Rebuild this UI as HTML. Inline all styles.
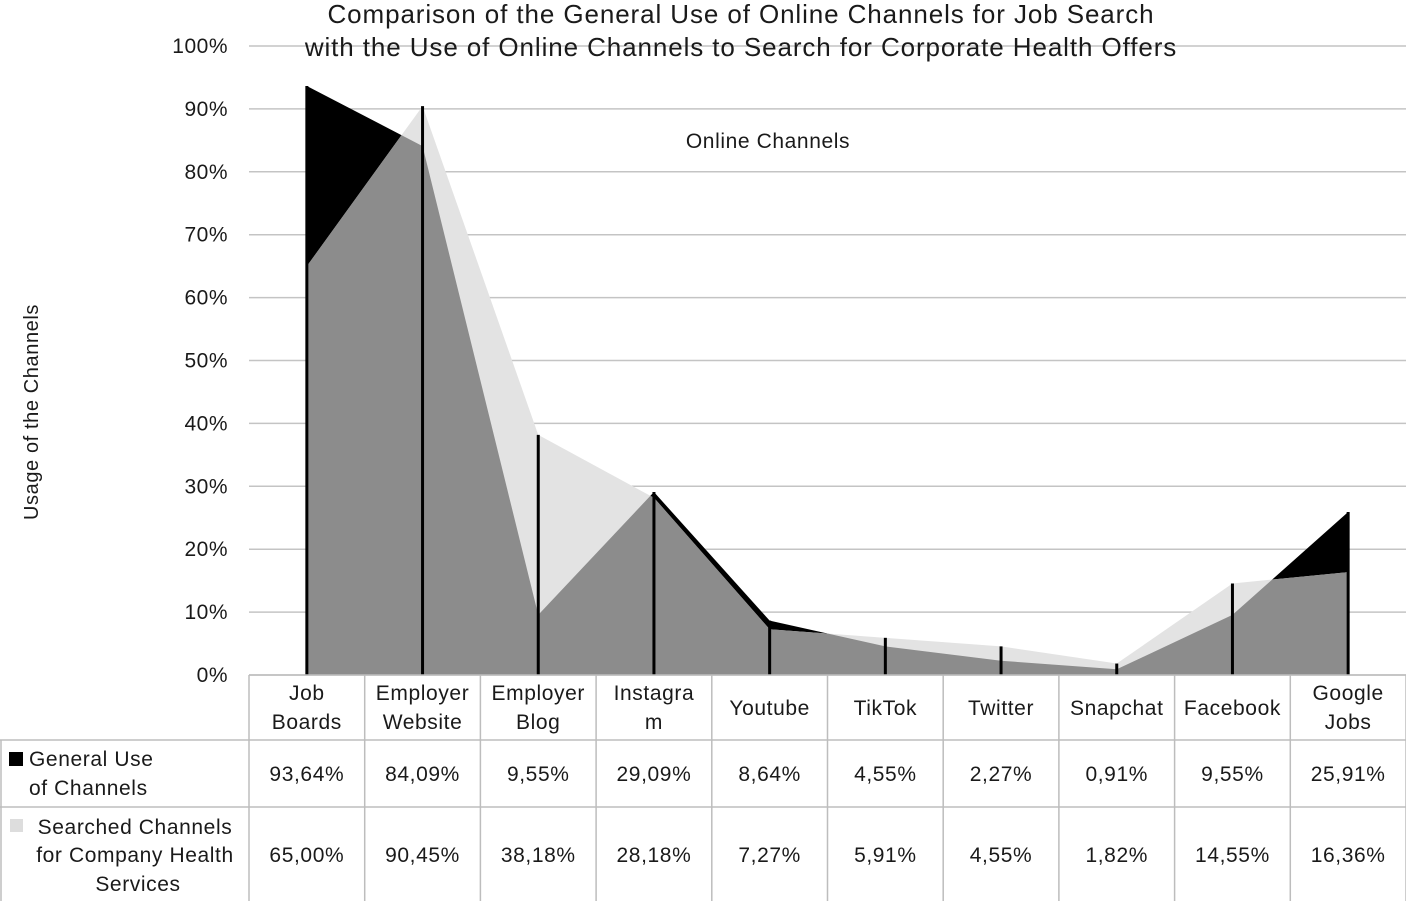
<!DOCTYPE html>
<html><head><meta charset="utf-8"><style>
body{margin:0;background:#fff}
svg text{font-family:"Liberation Sans",sans-serif;fill:#1a1a1a}
</style></head><body>
<svg id="c" width="1406" height="901">
<defs><clipPath id="clipS"><polygon id="clipPoly"/></clipPath></defs>
<g id="grid"></g>
<g id="areas"></g>
<g id="drops"></g>
<g id="yticks"></g>
<g id="table"></g>
<text x="741" y="23" font-size="26" letter-spacing="0.9" text-anchor="middle">Comparison of the General Use of Online Channels for Job Search</text>
<text x="741" y="56" font-size="26" letter-spacing="0.9" text-anchor="middle">with the Use of Online Channels to Search for Corporate Health Offers</text>
<text x="768" y="148" font-size="21" letter-spacing="0.6" text-anchor="middle">Online Channels</text>
<text transform="translate(38,412) rotate(-90)" font-size="20" letter-spacing="0.6" text-anchor="middle">Usage of the Channels</text>
</svg>
<script>
const categories=[["Job","Boards"],["Employer","Website"],["Employer","Blog"],["Instagra","m"],["Youtube"],["TikTok"],["Twitter"],["Snapchat"],["Facebook"],["Google","Jobs"]];
const generalUse=[93.64,84.09,9.55,29.09,8.64,4.55,2.27,0.91,9.55,25.91];
const searched=[65.00,90.45,38.18,28.18,7.27,5.91,4.55,1.82,14.55,16.36];
const yTicks=[0,10,20,30,40,50,60,70,80,90,100];
const NS="http://www.w3.org/2000/svg";
const x0=249,x1=1406,colW=(x1-x0)/categories.length;
const y=v=>675-v*6.29;
const x=i=>x0+colW*(i+0.5);
function mk(t,a,p){const e=document.createElementNS(NS,t);for(const k in a)e.setAttribute(k,a[k]);p.appendChild(e);return e;}
const grid=document.getElementById('grid'),yt=document.getElementById('yticks');
yTicks.forEach(v=>{
 const l=mk('line',{x1:x0,x2:x1,y1:y(v),y2:y(v),stroke:'#c4c4c4','stroke-width':1.5},grid);
 
 
 const t=mk('text',{x:228,y:y(v)+7,'font-size':21,'letter-spacing':0.5,'text-anchor':'end'},yt);
 t.textContent=v+'%';
 
 
});
function pts(arr){let s=x(0)+','+y(0)+' ';arr.forEach((v,i)=>s+=x(i)+','+y(v)+' ');return s+x(arr.length-1)+','+y(0);}
const ar=document.getElementById('areas');
const g1=mk('polygon',{points:pts(generalUse),fill:'#000'},ar);


const s1=mk('polygon',{points:pts(searched),fill:'#e3e3e3'},ar);


document.getElementById('clipPoly').setAttribute('points',pts(searched));
const o=mk('polygon',{points:pts(generalUse),fill:'#8c8c8c','clip-path':'url(#clipS)'},ar);


const dr=document.getElementById('drops');
generalUse.forEach((v,i)=>{
 const l=mk('line',{x1:x(i),x2:x(i),y1:y(0),y2:y(Math.max(v,searched[i])),stroke:'#000','stroke-width':3},dr);
 
 
});
const tb=document.getElementById('table');
const rows=[675,740,807,901];
function hl(a,b,yy){mk('line',{x1:a,x2:b,y1:yy,y2:yy,stroke:'#bdbdbd','stroke-width':1.5},tb);}
hl(x0,x1,rows[0]);hl(0,x1,rows[1]);hl(0,x1,rows[2]);
for(let i=0;i<=categories.length;i++){const xx=x0+colW*i;mk('line',{x1:xx,x2:xx,y1:rows[0],y2:901,stroke:'#bdbdbd','stroke-width':1.5},tb);}
mk('line',{x1:1,x2:1,y1:rows[1],y2:901,stroke:'#bdbdbd','stroke-width':1.5},tb);
function txt(s,xx,yy,fs,anchor){const t=mk('text',{x:xx,y:yy,'font-size':fs,'letter-spacing':0.6,'text-anchor':anchor||'middle'},tb);t.textContent=s;
 
 return t;}
const fmt=v=>v.toFixed(2).replace('.',',')+'%';
categories.forEach((c,i)=>{
 if(c.length==2){txt(c[0],x(i),700,21);txt(c[1],x(i),729,21);}else txt(c[0],x(i),715,21);
 txt(fmt(generalUse[i]),x(i),781,21);
 txt(fmt(searched[i]),x(i),862,21);
});
mk('rect',{x:9,y:752,width:14,height:14,fill:'#000'},tb);
txt('General Use',29,766,21,'start');txt('of Channels',29,795,21,'start');
mk('rect',{x:10,y:819,width:13,height:13,fill:'#ddd'},tb);
txt('Searched Channels',135,834,21);txt('for Company Health',135,862,21);txt('Services',138,891,21);
</script>
</body></html>
